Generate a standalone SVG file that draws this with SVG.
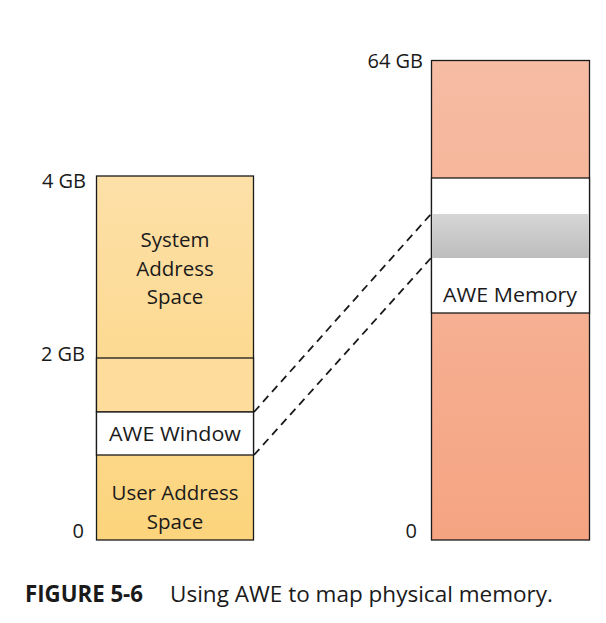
<svg xmlns="http://www.w3.org/2000/svg" width="606" height="623" viewBox="0 0 606 623">
<style>
text{font-family:"Open Sans","Noto Sans","Liberation Sans",sans-serif;font-size:20.5px;fill:#1a1a1a}
.c{text-anchor:middle}
.r{text-anchor:end;font-size:20px}
.b{stroke:#1a1a1a;stroke-width:1.3}
.d{stroke:#1a1a1a;stroke-width:1.8;stroke-dasharray:8 5.5;fill:none}
.cap{font-size:22.5px}
</style>
<defs>
<linearGradient id="gy" x1="0" y1="0" x2="0" y2="1"><stop offset="0" stop-color="#fde0a8"/><stop offset="1" stop-color="#fcd47c"/></linearGradient>
<linearGradient id="gr" x1="0" y1="0" x2="0" y2="1"><stop offset="0" stop-color="#f6bca4"/><stop offset="1" stop-color="#f5a482"/></linearGradient>
<linearGradient id="gg" x1="0" y1="0" x2="0" y2="1"><stop offset="0" stop-color="#d6d6d6"/><stop offset="1" stop-color="#bdbdbd"/></linearGradient>
</defs>
<g id="virtual">
<rect x="96.5" y="176" width="157" height="364" fill="url(#gy)" class="b"/>
<rect x="96.5" y="358" width="157" height="54" fill="#fddc9c" class="b"/>
<rect x="96.5" y="412" width="157" height="43" fill="#ffffff" class="b"/>
<text x="175" y="247" class="c">System</text>
<text x="175" y="276" class="c">Address</text>
<text x="175" y="304" class="c">Space</text>
<text x="175" y="441" class="c" textLength="132" lengthAdjust="spacingAndGlyphs">AWE Window</text>
<text x="175" y="500" class="c" textLength="127" lengthAdjust="spacingAndGlyphs">User Address</text>
<text x="175" y="529" class="c">Space</text>
<text x="86" y="188" class="r">4 GB</text>
<text x="85" y="361" class="r">2 GB</text>
<text x="84" y="538" class="r">0</text>
</g>
<g id="physical">
<rect x="431.5" y="60.5" width="158" height="479.5" fill="url(#gr)" class="b"/>
<rect x="431.5" y="178" width="158" height="135" fill="#ffffff" class="b"/>
<rect x="432" y="214" width="157" height="44" fill="url(#gg)"/>
<text x="510" y="302" class="c" textLength="134" lengthAdjust="spacingAndGlyphs">AWE Memory</text>
<text x="423" y="68" class="r">64 GB</text>
<text x="417" y="538" class="r">0</text>
</g>
<g id="connectors">
<line x1="254" y1="412" x2="431" y2="214" class="d"/>
<line x1="254" y1="455" x2="431" y2="258" class="d"/>
</g>
<g id="caption">
<text x="25" y="602" class="cap" font-weight="bold" textLength="118" lengthAdjust="spacingAndGlyphs">FIGURE 5-6</text>
<text x="170" y="602" class="cap" textLength="383" lengthAdjust="spacingAndGlyphs">Using AWE to map physical memory.</text>
</g>
</svg>
